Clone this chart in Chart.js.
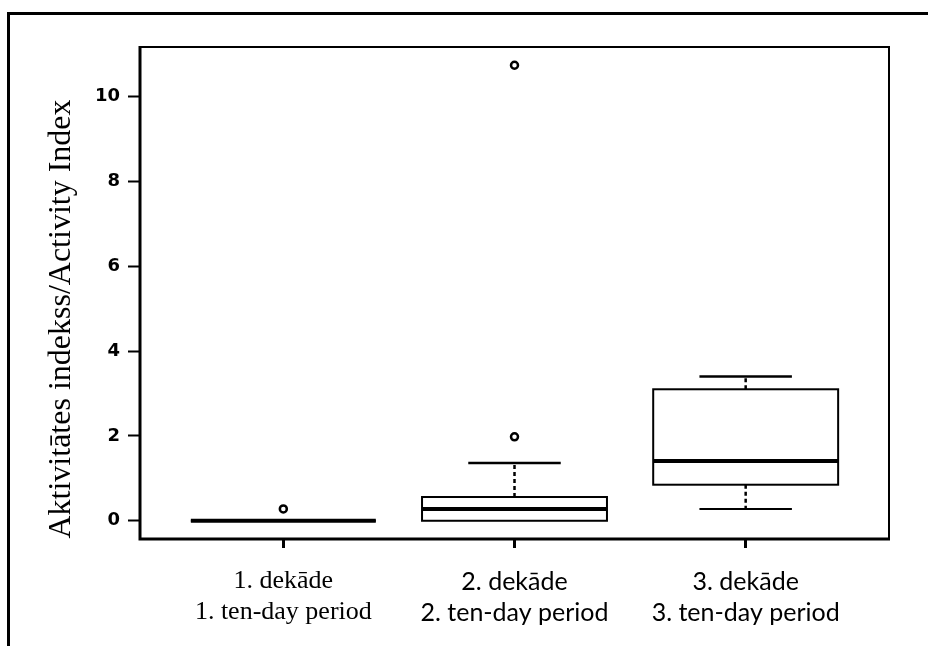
<!DOCTYPE html>
<html lang="lv">
<head>
    <meta charset="UTF-8">
    <title>Aktivitātes indekss</title>
    <script src="https://cdn.jsdelivr.net/npm/chart.js"></script>
    <style>
        html, body { margin: 0; padding: 0; background: #fff; }
        .wrap { position: relative; width: 928px; height: 646px; overflow: hidden; }
        .frame {
            position: absolute; left: 7px; top: 12px; width: 1000px; height: 1000px;
            border-left: 3px solid #000; border-top: 3px solid #000;
            pointer-events: none;
        }
        canvas { display: block; }
    </style>
</head>
<body>
<div class="wrap">
    <canvas id="chart" width="928" height="646"></canvas>
    <div class="frame"></div>
</div>
<script>
    // categories (x labels, two lines each)
    const categories = [
        ['1. dekāde', '1. ten-day period'],
        ['2. dekāde', '2. ten-day period'],
        ['3. dekāde', '3. ten-day period']
    ];
    // box plot statistics
    const whiskerLow  = [0, 0,    0.28];
    const q1          = [0, 0,    0.85];
    const medians     = [0, 0.28, 1.41];
    const q3          = [0, 0.56, 3.10];
    const whiskerHigh = [0, 1.36, 3.40];
    const outliers    = [[0.28], [1.98, 10.74], []];
    const yTicks = [0, 2, 4, 6, 8, 10];
    const yTitle = 'Aktivitātes indekss/Activity Index';

    const BOX_W = 0.8;     // box width in category units
    const CAP_W = 0.4;     // whisker cap width

    const outlierPoints = [];
    outliers.forEach((list, i) => list.forEach(v => outlierPoints.push({ x: i + 1, y: v })));

    // boxes, whiskers and frame drawn through the chart scales
    const boxPlugin = {
        id: 'boxes',
        afterDatasetsDraw(chart) {
            const { ctx, chartArea: a, scales: { x, y } } = chart;
            ctx.save();
            ctx.strokeStyle = '#000';
            ctx.lineCap = 'butt';
            categories.forEach((c, i) => {
                const cx = x.getPixelForValue(i + 1);
                const l = x.getPixelForValue(i + 1 - BOX_W / 2);
                const r = x.getPixelForValue(i + 1 + BOX_W / 2);
                const cl = x.getPixelForValue(i + 1 - CAP_W / 2);
                const cr = x.getPixelForValue(i + 1 + CAP_W / 2);
                const yq1 = y.getPixelForValue(q1[i]);
                const yq3 = y.getPixelForValue(q3[i]);
                const ymed = y.getPixelForValue(medians[i]);
                const ylo = y.getPixelForValue(whiskerLow[i]);
                const yhi = y.getPixelForValue(whiskerHigh[i]);

                // dashed whiskers
                ctx.lineWidth = 2.5;
                ctx.setLineDash([4, 3]);
                ctx.beginPath();
                ctx.moveTo(cx, yq3); ctx.lineTo(cx, yhi);
                ctx.moveTo(cx, yq1); ctx.lineTo(cx, ylo);
                ctx.stroke();
                ctx.setLineDash([]);

                // caps (only where a whisker sticks out of the box)
                ctx.lineWidth = 2.5;
                ctx.beginPath();
                if (whiskerHigh[i] > q3[i]) { ctx.moveTo(cl, yhi); ctx.lineTo(cr, yhi); }
                ctx.stroke();
                ctx.lineWidth = 2;
                ctx.beginPath();
                if (whiskerLow[i] < q1[i]) { ctx.moveTo(cl, ylo); ctx.lineTo(cr, ylo); }
                ctx.stroke();

                // box
                ctx.lineWidth = 2;
                ctx.strokeRect(l, yq3, r - l, yq1 - yq3);

                // median
                ctx.lineWidth = 4;
                ctx.beginPath();
                ctx.moveTo(l, ymed); ctx.lineTo(r, ymed);
                ctx.stroke();
            });

            // plot frame
            ctx.lineWidth = 2;
            ctx.beginPath();
            ctx.moveTo(a.left, a.top); ctx.lineTo(a.right, a.top); ctx.lineTo(a.right, a.bottom);
            ctx.stroke();
            ctx.lineWidth = 3;
            ctx.beginPath();
            ctx.moveTo(a.left, a.top - 1); ctx.lineTo(a.left, a.bottom); ctx.lineTo(a.right + 1, a.bottom);
            ctx.stroke();

            // y axis title
            ctx.fillStyle = '#000';
            ctx.font = '32px "Liberation Serif", "Times New Roman", serif';
            ctx.textAlign = 'center';
            ctx.textBaseline = 'alphabetic';
            ctx.translate(70, 319);
            ctx.rotate(-Math.PI / 2);
            ctx.fillText(yTitle, 0, 0);
            ctx.restore();
        }
    };

    const ctx = document.getElementById('chart').getContext('2d');
    new Chart(ctx, {
        type: 'scatter',
        data: {
            datasets: [{
                data: outlierPoints,
                pointStyle: 'circle',
                pointRadius: 3.5,
                pointBorderWidth: 2.5,
                pointBorderColor: '#000',
                pointBackgroundColor: '#fff'
            }]
        },
        options: {
            responsive: false,
            animation: false,
            events: [],
            devicePixelRatio: 1,
            layout: { padding: { top: 47, right: 39, left: 0, bottom: 0 } },
            plugins: {
                legend: { display: false },
                tooltip: { enabled: false }
            },
            scales: {
                x: {
                    type: 'linear',
                    min: 0.38,
                    max: 3.62,
                    afterBuildTicks: s => { s.ticks = categories.map((c, i) => ({ value: i + 1 })); },
                    afterFit: s => { s.height = 107; },
                    border: { display: false },
                    grid: {
                        drawOnChartArea: false,
                        drawTicks: true,
                        tickLength: 9,
                        tickWidth: 3,
                        tickColor: '#000'
                    },
                    ticks: {
                        padding: 18,
                        color: '#000',
                        maxRotation: 0,
                        autoSkip: false,
                        callback: v => categories[v - 1],
                        font: c => c.index === 0
                            ? { family: '"Liberation Serif", "Times New Roman", serif', size: 26, lineHeight: '31px' }
                            : { family: 'Lato, "Open Sans", sans-serif', size: 25, lineHeight: '31px' }
                    }
                },
                y: {
                    min: -0.43,
                    max: 11.17,
                    afterBuildTicks: s => { s.ticks = yTicks.map(v => ({ value: v })); },
                    afterFit: s => { s.width = 140; },
                    border: { display: false },
                    grid: {
                        drawOnChartArea: false,
                        drawTicks: true,
                        tickLength: 12,
                        tickWidth: 2,
                        tickColor: '#000'
                    },
                    ticks: {
                        padding: 8,
                        color: '#000',
                        font: { family: '"DejaVu Sans", sans-serif', size: 18, weight: 'bold' }
                    }
                }
            }
        },
        plugins: [boxPlugin]
    });
</script>
</body>
</html>
